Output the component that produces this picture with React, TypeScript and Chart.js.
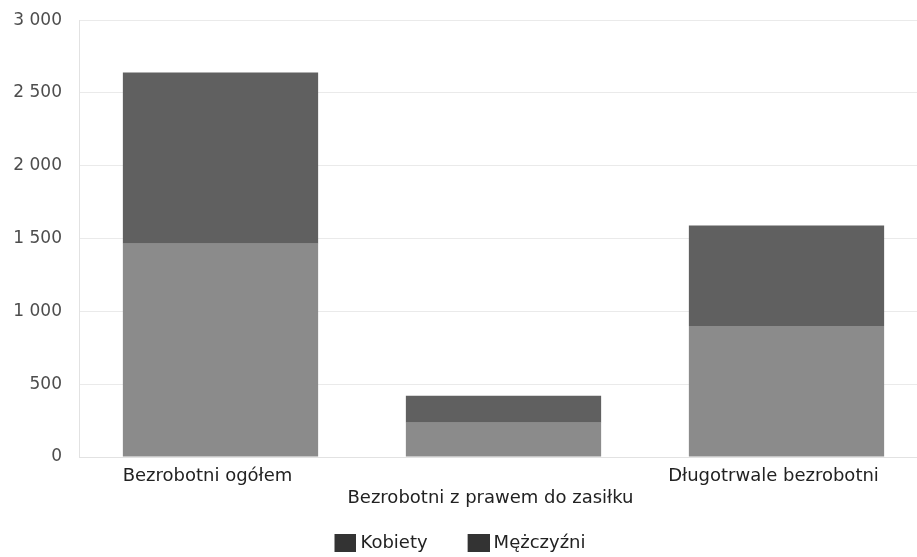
import React, { useEffect, useRef } from "react";
import { Chart, registerables } from "chart.js";

Chart.register(...registerables);

const categories: (string | string[])[] = [
  ["Bezrobotni ogółem"],
  ["", "Bezrobotni z prawem do zasiłku"],
  ["Długotrwale bezrobotni"],
];
const seriesNames = ["Kobiety", "Mężczyźni"];
const kobiety = [1465, 235, 900];
const mezczyzni = [1175, 185, 690];
const yTicks = [0, 500, 1000, 1500, 2000, 2500, 3000];

const FONT = "'DejaVu Sans', sans-serif";

function makeLegendSwatch(): HTMLCanvasElement {
  const c = document.createElement("canvas");
  c.width = 58;
  c.height = 18;
  const ctx = c.getContext("2d");
  if (ctx) {
    ctx.fillStyle = "#333333";
    ctx.fillRect(36, 0, 22, 18);
  }
  return c;
}

const legendShift = {
  id: "legendShift",
  afterLayout(chart: any) {
    const lg = chart.legend;
    if (lg) {
      lg.left -= 26;
      lg.right -= 26;
    }
  },
};

export default function App() {
  const ref = useRef<HTMLCanvasElement | null>(null);

  useEffect(() => {
    document.body.style.margin = "0";
    const canvas = ref.current;
    if (!canvas) return;
    const swatch = makeLegendSwatch();
    const chart = new Chart(canvas, {
      type: "bar",
      data: {
        labels: categories,
        datasets: [
          {
            label: seriesNames[0],
            data: kobiety,
            backgroundColor: "#8b8b8b",
            categoryPercentage: 1,
            barPercentage: 0.69,
          },
          {
            label: seriesNames[1],
            data: mezczyzni,
            backgroundColor: "#606060",
            categoryPercentage: 1,
            barPercentage: 0.69,
          },
        ],
      },
      plugins: [legendShift],
      options: {
        animation: false,
        responsive: true,
        maintainAspectRatio: false,
        layout: { padding: { left: 13, top: 0, right: 0, bottom: 0 } },
        scales: {
          x: {
            stacked: true,
            grid: { display: false, drawTicks: false },
            border: { display: true, color: "#e2e2e2" },
            ticks: {
              color: "#222",
              font: { family: FONT, size: 18 },
              padding: 9,
              labelOffset: -13,
              maxRotation: 0,
              autoSkip: false,
            },
            afterFit: (axis: any) => {
              axis.height = 68;
            },
          },
          y: {
            stacked: true,
            min: 0,
            max: 3000,
            afterBuildTicks: (axis: any) => {
              axis.ticks = yTicks.map((v) => ({ value: v }));
            },
            grid: {
              color: "#eaeaea",
              drawTicks: true,
              tickLength: 7,
              tickColor: "rgba(0,0,0,0)",
            },
            border: { display: true, color: "#e2e2e2" },
            ticks: {
              color: "#4d4d4d",
              font: { family: FONT, size: 17 },
              padding: 10,
              callback: (v: any) =>
                String(v).replace(/\B(?=(\d{3})+(?!\d))/g, " "),
            },
            afterFit: (axis: any) => {
              axis.width = 66;
            },
          },
        },
        plugins: {
          tooltip: { enabled: false },
          legend: {
            position: "bottom",
            maxHeight: 32,
            labels: {
              color: "#222",
              font: { family: FONT, size: 18 },
              usePointStyle: true,
              pointStyleWidth: 48,
              boxHeight: 18,
              padding: 9,
              generateLabels: (ch: any) =>
                ch.data.datasets.map((ds: any, i: number) => ({
                  text: ds.label,
                  fillStyle: "#333",
                  strokeStyle: "#333",
                  lineWidth: 0,
                  hidden: false,
                  datasetIndex: i,
                  fontColor: "#222",
                  pointStyle: swatch,
                })),
            },
          },
        },
      },
    });
    return () => chart.destroy();
  }, []);

  return (
    <div style={{ width: 917, height: 557, overflow: "hidden", position: "relative", background: "#fff" }}>
      <div style={{ width: 928, height: 557, position: "absolute", left: 0, top: 0 }}>
        <canvas ref={ref} />
      </div>
    </div>
  );
}
